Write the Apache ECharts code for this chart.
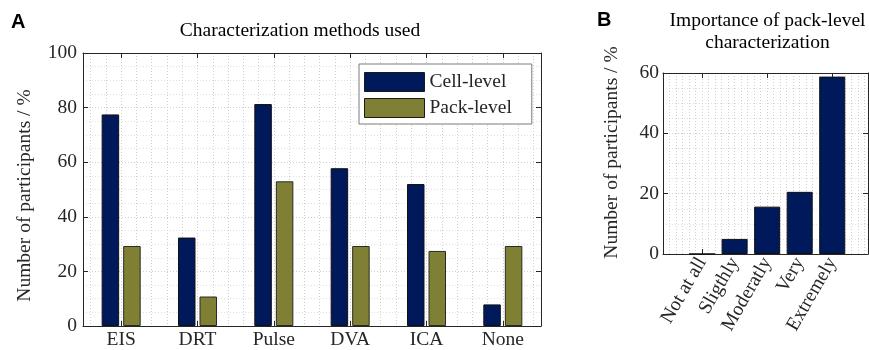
<!DOCTYPE html>
<html>
<head>
<meta charset="utf-8">
<script src="https://cdn.jsdelivr.net/npm/echarts@6/dist/echarts.min.js"></script>
<style>
  html, body { margin: 0; padding: 0; background: #ffffff; }
  #chart { width: 869px; height: 350px; }
</style>
</head>
<body>
<div id="chart"></div>
<script>
// Survey results: characterization methods (panel A) and importance of pack-level work (panel B)
const methods = ['EIS', 'DRT', 'Pulse', 'DVA', 'ICA', 'None'];
const cellLevel = [77.5, 32.4, 81.3, 57.8, 52.0, 7.9];
const packLevel = [29.3, 10.8, 53.0, 29.3, 27.5, 29.3];

const importanceLevels = ['Not at all', 'Sligthly', 'Moderatly', 'Very', 'Extremely'];
const importanceShare = [0, 5.0, 15.7, 20.6, 58.8];

const methodsAxisMax = 100;
const importanceAxisMax = 60;
const valueTickStep = 20;

const SERIF = '"Liberation Serif", "Times New Roman", serif';
const SANS = '"Liberation Sans", Arial, sans-serif';
const INK = '#262626';
const NAVY = '#00195a';
const OLIVE = '#808034';
const FS = 19.5;

const gridLine = { show: true, lineStyle: { color: '#cfcfcf', width: 1, type: [1, 2] } };
const minorGridLine = { show: true, lineStyle: { color: '#e0e0e0', width: 1, type: [1, 2] } };
const frameLine = { show: true, onZero: false, lineStyle: { color: INK, width: 1 } };
const inTick = { show: true, inside: true, length: 5, lineStyle: { color: INK, width: 1 } };

const chart = echarts.init(document.getElementById('chart'), null, { renderer: 'canvas' });

chart.setOption({
  animation: false,
  backgroundColor: '#ffffff',
  textStyle: { fontFamily: SERIF, color: INK },
  grid: [
    { left: 83, top: 53, width: 458, height: 275 },          // panel A
    { left: 663, top: 73, width: 205, height: 181 },         // panel B frame
    { left: 685.8, top: 73, width: 162.7, height: 181 }      // panel B categories
  ],
  legend: {
    data: ['Cell-level', 'Pack-level'],
    orient: 'vertical',
    left: 359,
    top: 64,
    padding: [8, 20, 6, 5],
    itemGap: 6,
    itemWidth: 60,
    itemHeight: 19,
    icon: 'rect',
    backgroundColor: '#ffffff',
    borderColor: '#7a7a7a',
    borderWidth: 1,
    borderRadius: 0,
    textStyle: { fontFamily: SERIF, fontSize: FS, color: INK },
    itemStyle: { borderColor: '#1a1a1a', borderWidth: 1 }
  },
  xAxis: [
    // panel A
    {
      gridIndex: 0, type: 'category', data: methods, position: 'bottom',
      axisLine: frameLine, axisTick: Object.assign({ alignWithLabel: true }, inTick),
      axisLabel: { fontFamily: SERIF, fontSize: FS, color: INK, margin: 4, interval: 0 },
      splitLine: { show: false }
    },
    {
      gridIndex: 0, type: 'category', data: methods, position: 'top',
      axisLine: frameLine, axisTick: Object.assign({ alignWithLabel: true }, inTick),
      axisLabel: { show: false }, splitLine: { show: false }
    },
    {
      // fine vertical grid every fifth of a category, aligned on category centres
      gridIndex: 0, type: 'value', min: 0.5, max: 6.5, splitNumber: 30, position: 'bottom',
      axisLine: { show: false }, axisTick: { show: false }, axisLabel: { show: false },
      splitLine: gridLine
    },
    // panel B frame
    {
      gridIndex: 1, type: 'value', min: -0.2, max: 6.1, interval: 0.2, position: 'bottom',
      axisLine: frameLine, axisTick: { show: false }, axisLabel: { show: false },
      splitLine: gridLine
    },
    {
      gridIndex: 1, type: 'value', min: -0.2, max: 6.1, position: 'top',
      axisLine: frameLine, axisTick: { show: false }, axisLabel: { show: false },
      splitLine: { show: false }
    },
    // panel B categories
    {
      gridIndex: 2, type: 'category', data: importanceLevels, position: 'bottom',
      axisLine: { show: false },
      axisTick: Object.assign({ alignWithLabel: true, interval: 1 }, inTick),
      axisLabel: { fontFamily: SERIF, fontSize: FS, color: INK, rotate: 60, margin: 5, interval: 0 },
      splitLine: { show: false }
    },
    {
      gridIndex: 2, type: 'category', data: importanceLevels, position: 'top',
      axisLine: { show: false },
      axisTick: Object.assign({ alignWithLabel: true, interval: 1 }, inTick),
      axisLabel: { show: false }, splitLine: { show: false }
    }
  ],
  yAxis: [
    {
      gridIndex: 0, type: 'value', min: 0, max: methodsAxisMax, interval: valueTickStep, position: 'left',
      name: 'Number of participants / %', nameLocation: 'middle', nameGap: 48,
      nameTextStyle: { fontFamily: SERIF, fontSize: FS, color: INK, padding: [0, 12, 0, 0] },
      axisLine: frameLine, axisTick: inTick,
      axisLabel: { fontFamily: SERIF, fontSize: FS, color: INK, margin: 6 },
      splitLine: gridLine,
      minorTick: { show: false, splitNumber: 4 },
      minorSplitLine: minorGridLine
    },
    {
      gridIndex: 0, type: 'value', min: 0, max: methodsAxisMax, interval: valueTickStep, position: 'right',
      axisLine: frameLine, axisTick: inTick, axisLabel: { show: false }, splitLine: { show: false }
    },
    {
      gridIndex: 1, type: 'value', min: 0, max: importanceAxisMax, interval: valueTickStep, position: 'left',
      name: 'Number of participants / %', nameLocation: 'middle', nameGap: 41,
      nameTextStyle: { fontFamily: SERIF, fontSize: FS, color: INK, padding: [0, 0, 0, 22] },
      axisLine: frameLine, axisTick: inTick,
      axisLabel: { fontFamily: SERIF, fontSize: FS, color: INK, margin: 4 },
      splitLine: gridLine,
      minorTick: { show: false, splitNumber: 4 },
      minorSplitLine: minorGridLine
    },
    {
      gridIndex: 1, type: 'value', min: 0, max: importanceAxisMax, interval: valueTickStep, position: 'right',
      axisLine: frameLine, axisTick: inTick, axisLabel: { show: false }, splitLine: { show: false }
    },
    {
      gridIndex: 2, type: 'value', min: 0, max: importanceAxisMax, show: false,
      splitLine: { show: false }
    }
  ],
  series: [
    {
      name: 'Cell-level', type: 'bar', xAxisIndex: 0, yAxisIndex: 0,
      data: cellLevel, barWidth: 17.5, barGap: '23%',
      itemStyle: { color: NAVY, borderColor: '#111111', borderWidth: 1 }
    },
    {
      name: 'Pack-level', type: 'bar', xAxisIndex: 0, yAxisIndex: 0,
      data: packLevel, barWidth: 17.5, barGap: '23%',
      itemStyle: { color: OLIVE, borderColor: '#2a2a2a', borderWidth: 1 }
    },
    {
      name: 'Importance', type: 'bar', xAxisIndex: 5, yAxisIndex: 4,
      data: importanceShare, barWidth: 26,
      itemStyle: { color: NAVY, borderColor: '#111111', borderWidth: 1 }
    }
  ],
  graphic: [
    { type: 'text', left: 11, top: 12, style: { text: 'A', font: 'bold 20px ' + SANS, fill: '#000000' } },
    { type: 'text', left: 597, top: 10, style: { text: 'B', font: 'bold 20px ' + SANS, fill: '#000000' } },
    {
      type: 'text', x: 300, y: 31,
      style: { text: 'Characterization methods used', fontFamily: SERIF, fontSize: FS, fill: '#000000', align: 'center', verticalAlign: 'middle' }
    },
    {
      type: 'text', x: 767.5, y: 32,
      style: { text: 'Importance of pack-level\ncharacterization', fontFamily: SERIF, fontSize: FS, lineHeight: 21.5, fill: '#000000', align: 'center', verticalAlign: 'middle' }
    }
  ]
});
</script>
</body>
</html>
